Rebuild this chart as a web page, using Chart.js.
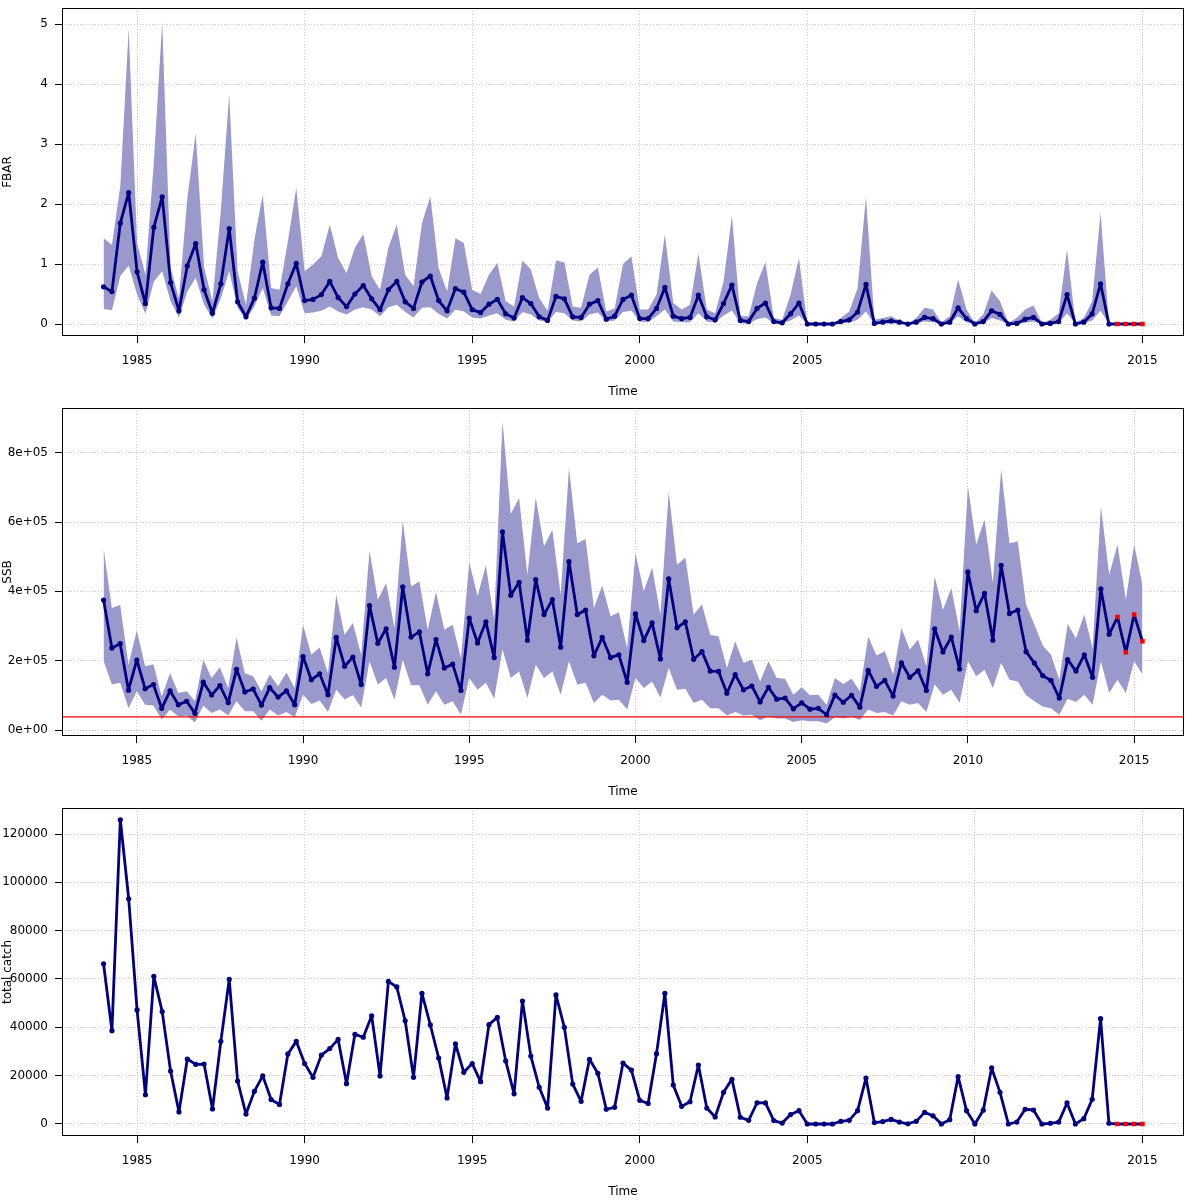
<!DOCTYPE html>
<html>
<head>
<meta charset="utf-8">
<title>FBAR, SSB and total catch</title>
<script src="https://cdn.jsdelivr.net/npm/chart.js@4.4.1/dist/chart.umd.min.js"></script>
<style>
  html, body { margin: 0; padding: 0; background: #ffffff; }
  canvas { display: block; }
</style>
</head>
<body>
<canvas id="grafikFbar" width="1200" height="400"></canvas>
<canvas id="grafikSsb" width="1200" height="400"></canvas>
<canvas id="grafikCatch" width="1200" height="400"></canvas>
<script>
// quarterly series, first value is 1984 Q1
const startYear = 1984;
const yearTicks = [1985, 1990, 1995, 2000, 2005, 2010, 2015];

// fishing mortality (fbar), with lower and upper bounds
const fbar = [
  0.62, 0.54, 1.68, 2.19, 0.87, 0.34, 1.61, 2.12, 0.69, 0.22,
  0.97, 1.34, 0.57, 0.18, 0.67, 1.59, 0.37, 0.12, 0.43, 1.03,
  0.27, 0.26, 0.67, 1.01, 0.39, 0.41, 0.49, 0.71, 0.44, 0.29,
  0.50, 0.64, 0.42, 0.24, 0.57, 0.71, 0.37, 0.26, 0.70, 0.80,
  0.39, 0.22, 0.59, 0.53, 0.24, 0.19, 0.33, 0.41, 0.17, 0.10,
  0.44, 0.34, 0.12, 0.06, 0.46, 0.42, 0.12, 0.11, 0.33, 0.39,
  0.08, 0.13, 0.41, 0.48, 0.09, 0.09, 0.26, 0.61, 0.13, 0.09,
  0.11, 0.48, 0.12, 0.07, 0.34, 0.65, 0.06, 0.04, 0.26, 0.35,
  0.04, 0.02, 0.17, 0.35, 0.00, 0.00, 0.00, 0.00, 0.04, 0.07,
  0.20, 0.66, 0.01, 0.03, 0.05, 0.03, 0.00, 0.03, 0.11, 0.09,
  0.00, 0.03, 0.27, 0.09, 0.00, 0.04, 0.22, 0.16, 0.00, 0.01,
  0.08, 0.11, 0.00, 0.01, 0.04, 0.49, 0.00, 0.03, 0.17, 0.67,
  0.00
];
const fbarHi = [
  1.43, 1.32, 2.30, 4.92, 1.35, 0.82, 2.70, 5.04, 0.93, 0.43,
  2.10, 3.18, 0.95, 0.38, 1.90, 3.83, 0.88, 0.32, 1.40, 2.16,
  0.60, 0.57, 1.38, 2.27, 0.88, 0.99, 1.13, 1.66, 1.10, 0.85,
  1.27, 1.50, 0.80, 0.57, 1.27, 1.66, 0.82, 0.63, 1.68, 2.13,
  0.93, 0.54, 1.43, 1.35, 0.57, 0.50, 0.82, 1.02, 0.38, 0.29,
  1.06, 0.91, 0.43, 0.22, 1.06, 1.03, 0.29, 0.27, 0.82, 0.94,
  0.21, 0.26, 1.00, 1.13, 0.24, 0.24, 0.49, 1.49, 0.35, 0.24,
  0.32, 1.17, 0.24, 0.18, 0.71, 1.81, 0.13, 0.13, 0.68, 1.03,
  0.10, 0.07, 0.49, 1.10, 0.00, 0.01, 0.01, 0.01, 0.10, 0.21,
  0.60, 2.12, 0.07, 0.10, 0.13, 0.06, 0.01, 0.10, 0.27, 0.24,
  0.03, 0.13, 0.74, 0.24, 0.02, 0.16, 0.56, 0.38, 0.02, 0.10,
  0.24, 0.31, 0.02, 0.07, 0.18, 1.24, 0.02, 0.10, 0.38, 1.85,
  0.01
];
const fbarLo = [
  0.25, 0.23, 0.80, 0.97, 0.49, 0.17, 0.71, 0.88, 0.38, 0.11,
  0.54, 0.77, 0.32, 0.09, 0.43, 0.88, 0.27, 0.07, 0.29, 0.60,
  0.14, 0.13, 0.38, 0.63, 0.18, 0.19, 0.22, 0.29, 0.21, 0.16,
  0.24, 0.28, 0.24, 0.13, 0.28, 0.32, 0.20, 0.11, 0.27, 0.28,
  0.17, 0.09, 0.24, 0.21, 0.11, 0.09, 0.14, 0.18, 0.07, 0.04,
  0.20, 0.16, 0.06, 0.03, 0.20, 0.18, 0.06, 0.04, 0.16, 0.19,
  0.04, 0.06, 0.20, 0.22, 0.04, 0.03, 0.13, 0.24, 0.04, 0.03,
  0.03, 0.18, 0.04, 0.02, 0.14, 0.22, 0.01, 0.01, 0.08, 0.11,
  0.01, 0.01, 0.06, 0.14, 0.00, 0.00, 0.00, 0.00, 0.01, 0.02,
  0.07, 0.21, 0.00, 0.01, 0.01, 0.01, 0.00, 0.01, 0.04, 0.03,
  0.00, 0.01, 0.13, 0.03, 0.00, 0.01, 0.10, 0.06, 0.00, 0.00,
  0.02, 0.04, 0.00, 0.00, 0.01, 0.18, 0.00, 0.01, 0.06, 0.22,
  0.00
];
const fbarProj = [0, 0, 0, 0];

// spawning stock biomass, thousand tonnes
const ssb = [
  375, 236.5, 249, 115, 202, 119, 131, 62.5, 113, 73,
  83, 48, 138, 101, 128, 79, 175, 110, 118, 72,
  122, 95, 113, 73, 212, 145, 162, 102, 267, 184,
  210, 131, 359, 250, 292, 181, 413, 268, 283, 162,
  261, 179, 190, 114, 323, 251, 312, 209, 572, 389,
  426, 259, 434, 333, 376, 239, 486, 333, 346, 214,
  267, 209, 217, 137.5, 335, 258, 309, 205, 436, 295,
  312, 204, 226, 170, 169, 106, 160, 116, 127, 81,
  123, 89, 92, 61, 78, 60, 62.5, 44, 101, 80,
  100, 66, 172, 126, 143, 98, 194, 152, 171, 114,
  292, 225, 268, 176, 456, 344, 394, 259, 475, 336,
  346, 226, 193, 157, 143, 92, 203, 170, 217, 152,
  407, 276
];
const ssbProj = [326, 224, 333, 256];
const ssbHi = [
  525, 352, 361, 188, 287, 184, 190, 97, 164, 107,
  112, 83, 203, 150, 181, 121, 267, 164, 155, 112,
  160, 126, 166, 121, 304, 217, 238, 164, 390, 275,
  309, 217, 517, 376, 424, 294, 604, 414, 429, 289,
  398, 289, 304, 208, 485, 386, 475, 318, 890, 623,
  669, 448, 671, 530, 578, 390, 756, 539, 551, 352,
  417, 328, 340, 236, 510, 400, 469, 333, 687, 477,
  498, 333, 362, 275, 270, 179, 256, 193, 203, 140,
  198, 150, 148, 102, 123, 100, 102, 73, 150, 133,
  148, 112, 270, 215, 227, 160, 294, 232, 261, 184,
  443, 347, 410, 285, 703, 535, 607, 424, 753, 539,
  544, 362, 304, 244, 217, 145, 306, 265, 333, 236,
  645, 448, 535, 376, 535, 419
];
const ssbLo = [
  200, 131, 136, 63, 112, 73, 71, 30, 59, 39,
  42, 22, 70, 49, 59, 42, 83, 54, 54, 27,
  59, 42, 52, 37, 102, 75, 85, 52, 116, 88,
  100, 65, 198, 131, 150, 87, 203, 129, 129, 73,
  112, 73, 83, 44, 150, 116, 136, 90, 232, 150,
  169, 92, 188, 150, 169, 102, 198, 131, 136, 78,
  102, 85, 87, 59, 150, 121, 140, 94, 179, 116,
  119, 78, 87, 63, 63, 42, 52, 42, 44, 28,
  39, 33, 33, 23, 28, 25, 25, 19, 37, 33,
  38, 29, 59, 49, 52, 42, 83, 73, 78, 52,
  131, 102, 116, 78, 198, 155, 174, 121, 193, 145,
  140, 100, 83, 68, 63, 44, 90, 81, 102, 73,
  198, 107, 145, 107, 198, 160
];
const blim = 38000;

// total catch, tonnes
const totalCatch = [
  66300, 38600, 125900, 93200, 47200, 12100, 61100, 46500, 21900, 5000,
  26900, 24700, 24800, 6200, 34200, 59900, 17800, 4100, 13500, 19900,
  10100, 8100, 29000, 34200, 25000, 19300, 28500, 31200, 35000, 16700,
  37100, 35900, 44800, 19900, 59000, 56700, 42700, 19300, 54100, 41000,
  27300, 10800, 33200, 21400, 25000, 17500, 41100, 44100, 26100, 12500,
  50900, 28100, 15200, 6600, 53400, 40000, 16500, 9400, 26800, 21000,
  6100, 6900, 25200, 22300, 9800, 8500, 29100, 54100, 16100, 7300,
  9200, 24400, 6600, 2900, 13100, 18500, 2800, 1500, 8800, 8700,
  1400, 400, 3900, 5500, 0, 0, 0, 0, 1100, 1500,
  5500, 19000, 600, 1000, 1900, 800, 100, 1100, 4800, 3400,
  0, 1800, 19600, 5500, 0, 5700, 23200, 13100, 0, 800,
  6100, 5800, 0, 300, 800, 8700, 0, 2200, 10200, 43600,
  300
];
const catchProj = [0, 0, 0, 0];

const fbarTicks = [0, 1, 2, 3, 4, 5];
const fbarTickLabels = ['0', '1', '2', '3', '4', '5'];
const ssbTicks = [0, 200000, 400000, 600000, 800000];
const ssbTickLabels = ['0e+00', '2e+05', '4e+05', '6e+05', '8e+05'];
const catchTicks = [0, 20000, 40000, 60000, 80000, 100000, 120000];
const catchTickLabels = ['0', '20000', '40000', '60000', '80000', '100000', '120000'];

const navy = '#000080';
const bandColor = '#9999cc';
const gridColor = '#c8c8c8';
const font = { family: 'DejaVu Sans', size: 12 };

function toPoints(values, offset, unit) {
  return values.map((v, i) => ({ x: startYear + (offset + i) / 4, y: v * unit }));
}

// frame round the plot region
const boxPlugin = {
  id: 'box',
  afterDraw(chart) {
    const a = chart.chartArea;
    const ctx = chart.ctx;
    ctx.save();
    ctx.strokeStyle = '#000';
    ctx.lineWidth = 1;
    ctx.strokeRect(Math.round(a.left) + 0.5, Math.round(a.top) + 0.5,
      Math.round(a.right - a.left) - 1, Math.round(a.bottom - a.top) - 1);
    ctx.restore();
  }
};

function drawPanel(id, p) {
  const n = p.obs.length;
  const datasets = [
    {
      // projection shown in red
      data: toPoints(p.proj, n, p.unit),
      showLine: false,
      pointStyle: 'rect',
      pointRadius: 3.2,
      pointBackgroundColor: '#ff0000',
      pointBorderWidth: 0
    },
    {
      data: toPoints(p.obs.concat(p.proj), 0, p.unit),
      borderColor: navy,
      borderWidth: 2.8,
      borderJoinStyle: 'round',
      borderCapStyle: 'round',
      pointRadius: c => (c.dataIndex < n ? 2.6 : 0),
      pointBackgroundColor: navy,
      pointBorderWidth: 0,
      fill: false
    }
  ];
  if (p.refLine !== undefined) {
    datasets.push({
      data: [{ x: p.xMin, y: p.refLine }, { x: p.xMax, y: p.refLine }],
      borderColor: '#ff0000',
      borderWidth: 1.4,
      pointRadius: 0,
      fill: false
    });
  }
  if (p.hi) {
    datasets.push({
      data: toPoints(p.hi, 0, p.unit),
      borderColor: 'rgba(0,0,0,0)',
      borderWidth: 0,
      pointRadius: 0,
      backgroundColor: bandColor,
      fill: '+1'
    });
    datasets.push({
      data: toPoints(p.lo, 0, p.unit),
      borderColor: 'rgba(0,0,0,0)',
      borderWidth: 0,
      pointRadius: 0,
      fill: false
    });
  }

  const ctx = document.getElementById(id).getContext('2d');
  return new Chart(ctx, {
    type: 'line',
    data: { datasets: datasets },
    plugins: [boxPlugin],
    options: {
      responsive: false,
      animation: false,
      events: [],
      layout: { padding: { top: 8, right: 16, left: 0, bottom: 0 } },
      elements: { line: { tension: 0 } },
      plugins: {
        legend: { display: false },
        tooltip: { enabled: false }
      },
      scales: {
        x: {
          type: 'linear',
          min: p.xMin,
          max: p.xMax,
          afterBuildTicks: s => { s.ticks = yearTicks.map(v => ({ value: v })); },
          afterFit: s => { s.height = 64; s.paddingLeft = 0; s.paddingRight = 0; },
          ticks: {
            color: '#000',
            font: font,
            padding: 11,
            maxRotation: 0,
            autoSkip: false,
            callback: v => String(v)
          },
          grid: { color: gridColor, lineWidth: 1, tickColor: '#000', tickLength: 7, tickWidth: 1 },
          border: { display: false, dash: [1, 2] },
          title: { display: true, text: 'Time', color: '#000', font: font, padding: { top: 0, bottom: 1 } }
        },
        y: {
          type: 'linear',
          min: p.yMin,
          max: p.yMax,
          afterBuildTicks: s => { s.ticks = p.yTicks.map(v => ({ value: v })); },
          afterFit: s => { s.width = 62; s.paddingTop = 0; s.paddingBottom = 0; },
          ticks: {
            color: '#000',
            font: font,
            padding: 7,
            autoSkip: false,
            callback: (v, i) => p.yLabels[i]
          },
          grid: { color: gridColor, lineWidth: 1, tickColor: '#000', tickLength: 7, tickWidth: 1 },
          border: { display: false, dash: [1, 2] },
          title: { display: true, text: p.yTitle, color: '#000', font: font, padding: { top: 1, bottom: 0 } }
        }
      }
    }
  });
}

// Grafik FBAR
drawPanel('grafikFbar', {
  obs: fbar, proj: fbarProj, hi: fbarHi, lo: fbarLo, unit: 1,
  xMin: 1982.76, xMax: 2016.24,
  yMin: -0.2, yMax: 5.2667,
  yTicks: fbarTicks, yLabels: fbarTickLabels, yTitle: 'FBAR'
});

// Grafik SSB
drawPanel('grafikSsb', {
  obs: ssb, proj: ssbProj, hi: ssbHi, lo: ssbLo, unit: 1000,
  refLine: blim,
  xMin: 1982.75, xMax: 2016.5,
  yMin: -17300, yMax: 929000,
  yTicks: ssbTicks, yLabels: ssbTickLabels, yTitle: 'SSB'
});

// Grafik total catch
drawPanel('grafikCatch', {
  obs: totalCatch, proj: catchProj, unit: 1,
  xMin: 1982.76, xMax: 2016.24,
  yMin: -4966, yMax: 130759,
  yTicks: catchTicks, yLabels: catchTickLabels, yTitle: 'total catch'
});
</script>
</body>
</html>
